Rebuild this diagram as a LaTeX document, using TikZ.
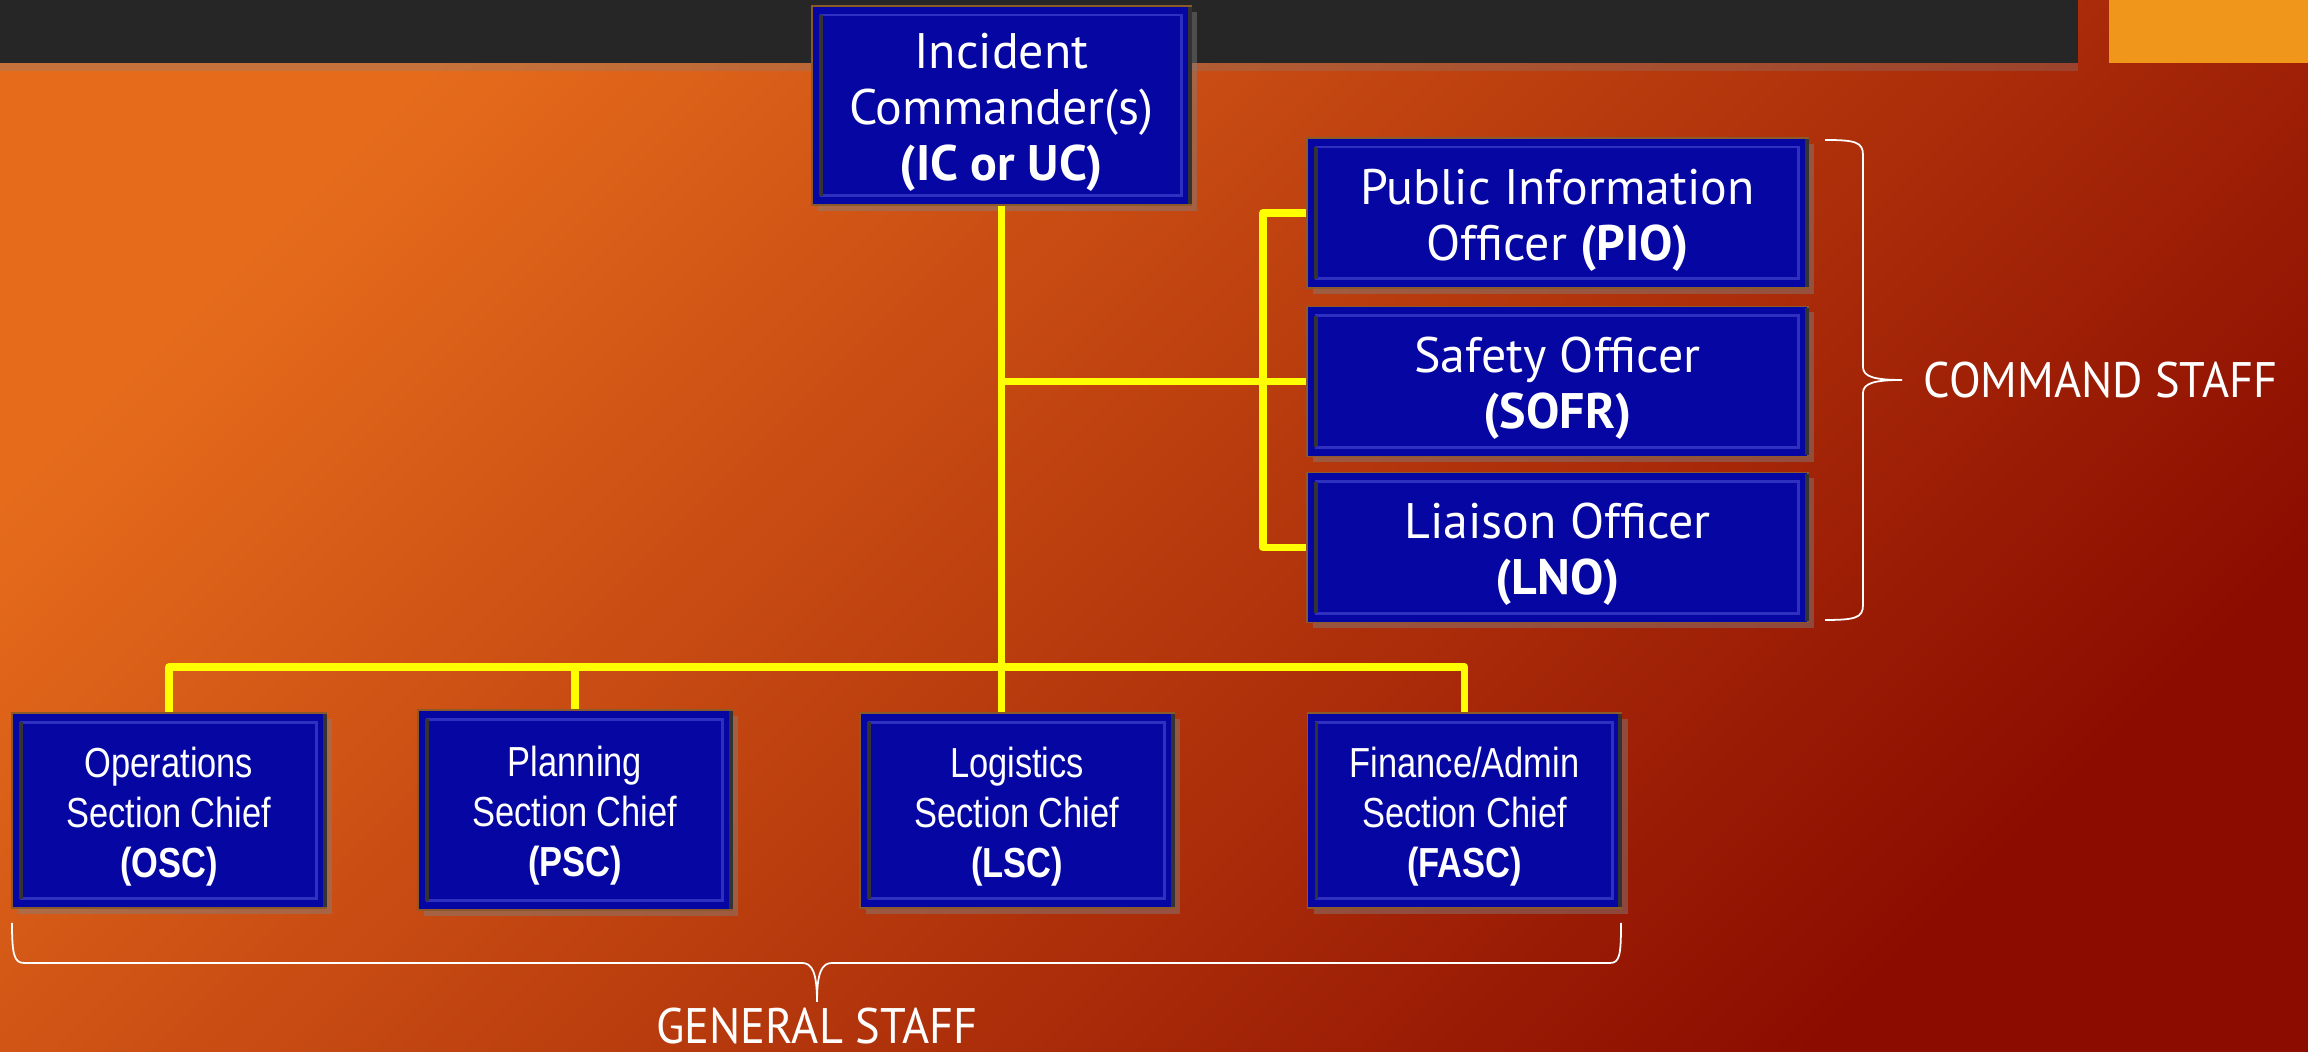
\documentclass[tikz,border=0pt]{standalone}
\usepackage{fontspec}
\setmainfont{PT Sans}
\newfontfamily\narrowfont[FakeStretch=0.82]{Liberation Sans}
\newfontfamily\labelfont[FakeStretch=0.93]{PT Sans}
\usepackage{tikz}
\usetikzlibrary{calc}
\usetikzlibrary{shadows}
\definecolor{bgorange}{HTML}{E66C1C}
\definecolor{bgmid}{HTML}{C8420C}
\definecolor{bgred}{HTML}{8C0C00}
\definecolor{barcolor}{HTML}{262626}
\definecolor{tabcolor}{HTML}{F0961A}
\definecolor{boxblue}{HTML}{0606A2}
\definecolor{boxedge}{HTML}{8A5A2A}
\definecolor{bevelblue}{HTML}{3030C0}
\definecolor{linkyellow}{HTML}{FFFF00}
\tikzset{
  chart/.style={draw=boxedge, line width=0.5pt, fill=boxblue, inner sep=0pt,
    drop shadow={shadow xshift=0.06cm, shadow yshift=-0.06cm, opacity=0.45}},
  chief/.style={chart, minimum width=5.01cm, minimum height=1.5cm},
  section/.style={chart, minimum width=3.14cm, minimum height=1.95cm},
  chieftext/.style={text=white, align=center, inner sep=0pt, font=\fontsize{14.2}{15.9}\selectfont},
  sectiontext/.style={text=white, align=center, inner sep=0pt, font=\narrowfont\fontsize{11.95}{14.2}\selectfont},
  link/.style={linkyellow, line width=2.1pt, line join=round},
  bevel/.style={bevelblue, line width=0.8pt},
  staff/.style={draw=white, line width=0.5pt},
  stafflabel/.style={text=white, inner sep=0pt, font=\labelfont\fontsize{14.2}{16}\selectfont},
}

\begin{document}
\begin{tikzpicture}
    \useasboundingbox (0, 0) rectangle (23.08, 10.52);
    \shade[top color=bgorange, middle color=bgmid, bottom color=bgred, shading angle=45] (0, 0) rectangle (23.08, 10.52);
    \fill[barcolor, drop shadow={shadow xshift=0cm, shadow yshift=-0.08cm, opacity=0.3}] (0, 9.89) rectangle (20.78, 10.52);
    \fill[tabcolor] (21.09, 9.89) rectangle (23.08, 10.52);

    \node[chief, minimum width=3.79cm, minimum height=1.99cm] at (10.015, 9.465) (IC) {};

    \node[chief] at (15.575, 8.39) (PIO) {};
    \node[chief] at (15.575, 6.705) (SOFR) {};
    \node[chief] at (15.575, 5.045) (LNO) {};

    \node[section] at (1.69, 2.415) (OSC) {};
    \node[section, minimum height=2cm] at (5.75, 2.42) (PSC) {};
    \node[section] at (10.17, 2.415) (LSC) {};
    \node[section] at (14.645, 2.415) (FASC) {};

    % bevel
    \foreach \n in {IC,PIO,SOFR,LNO,OSC,PSC,LSC,FASC} {
      \draw[bevel] ($(\n.north west)+(0.1,-0.1)$) rectangle ($(\n.south east)+(-0.1,0.1)$);
      \draw[black!80, line width=1pt] ($(\n.north west)+(0.1,-0.1)$) -- ($(\n.south west)+(0.1,0.1)$);
      \draw[black!80, line width=1.2pt] ($(\n.north east)+(-0.02,-0.02)$) -- ($(\n.south east)+(-0.02,0.02)$);
    }

    % box texts
    \node[chieftext] at ([yshift=-0.07cm]IC.center) (ICtext) {Incident\\Commander(s)\\\textbf{(IC or UC)}};
    \node[chieftext] at ([yshift=-0.07cm]PIO.center) (PIOtext) {Public Information\\Officer \textbf{(PIO)}};
    \node[chieftext] at ([yshift=-0.07cm]SOFR.center) (SOFRtext) {Safety Officer\\\textbf{(SOFR)}};
    \node[chieftext] at ([yshift=-0.07cm]LNO.center) (LNOtext) {Liaison Officer\\\textbf{(LNO)}};
    \node[sectiontext] at ([yshift=-0.06cm]OSC.center) (OSCtext) {Operations\\Section Chief\\\textbf{(OSC)}};
    \node[sectiontext] at ([yshift=-0.06cm]PSC.center) (PSCtext) {Planning\\Section Chief\\\textbf{(PSC)}};
    \node[sectiontext] at ([yshift=-0.06cm]LSC.center) (LSCtext) {Logistics\\Section Chief\\\textbf{(LSC)}};
    \node[sectiontext] at ([yshift=-0.06cm]FASC.center) (FASCtext) {Finance/Admin\\Section Chief\\\textbf{(FASC)}};

    \coordinate (cs) at (12.63, 0);
    \coordinate (gs) at (0, 3.85);
    \draw[link] (IC.south) -- (IC.south |- LSC.north);
    \draw[link] (IC.south |- SOFR.west) -- (SOFR.west);
    \draw[link] (PIO.west) -| (cs |- LNO.west) -- (LNO.west);
    \draw[link] (OSC.north) |- (FASC.north |- gs) -- (FASC.north);
    \draw[link] (PSC.north) -- (PSC.north |- gs);

    % braces
    \draw[staff] (18.25, 9.12) .. controls (18.55, 9.12) and (18.63, 9.10) .. (18.63, 8.97) -- (18.63, 6.85)
      .. controls (18.63, 6.75) and (18.75, 6.72) .. (19.02, 6.72)
      .. controls (18.75, 6.72) and (18.63, 6.69) .. (18.63, 6.59) -- (18.63, 4.47)
      .. controls (18.63, 4.34) and (18.55, 4.32) .. (18.25, 4.32);
    \draw[staff] (0.12, 1.29) .. controls (0.12, 0.98) and (0.14, 0.89) .. (0.24, 0.89) -- (8.02, 0.89)
      .. controls (8.12, 0.89) and (8.17, 0.80) .. (8.17, 0.50)
      .. controls (8.17, 0.80) and (8.22, 0.89) .. (8.32, 0.89) -- (16.10, 0.89)
      .. controls (16.20, 0.89) and (16.21, 0.98) .. (16.21, 1.29);

    \node[stafflabel, anchor=west] at (19.23, 6.715) (cmd) {COMMAND STAFF};
    \node[stafflabel, anchor=base] at (8.17, 0.08) (gen) {GENERAL STAFF};
\end{tikzpicture}
\end{document}
